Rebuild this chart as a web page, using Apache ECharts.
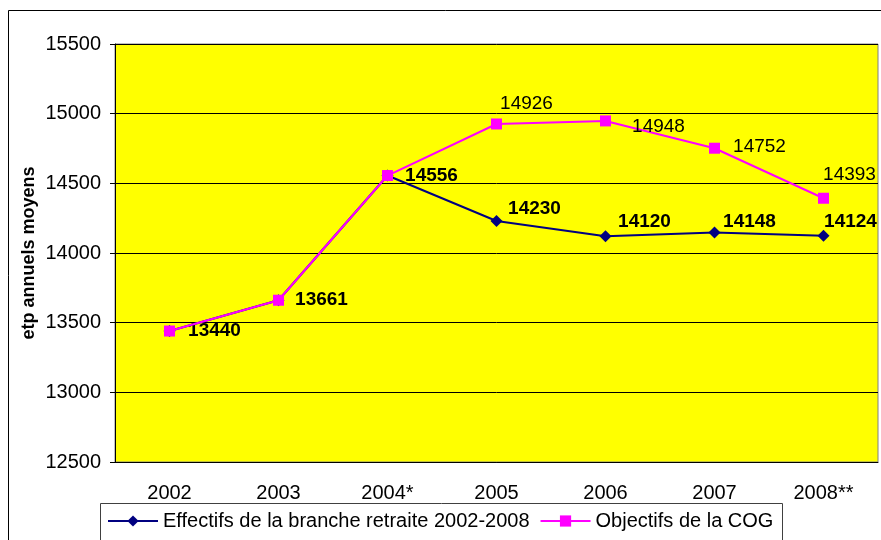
<!DOCTYPE html>
<html>
<head>
<meta charset="utf-8">
<script src="https://cdn.jsdelivr.net/npm/echarts@6/dist/echarts.min.js"></script>
<style>
    html, body { margin: 0; padding: 0; background: #fff; }
    #main { width: 881px; height: 540px; }
</style>
</head>
<body>
<div id="main"></div>
<script>
    // données
    var years = ['2002', '2003', '2004*', '2005', '2006', '2007', '2008**'];
    var effectifs = [13440, 13661, 14556, 14230, 14120, 14148, 14124];
    var objectifs = [13440, 13661, 14556, 14926, 14948, 14752, 14393];
    var nomEffectifs = 'Effectifs de la branche retraite 2002-2008';
    var nomObjectifs = 'Objectifs de la COG';

    // décalage des étiquettes (centre du texte par rapport au point)
    var offEff = [[45, 0], [43, 0], [44, 0], [38, -12], [39, -15], [35, -11], [27, -14]];
    var offObj = [null, null, null, [30, -20], [53, 6], [45, -1], [26, -23]];

    var font = 'Arial, "Liberation Sans", sans-serif';

    function buildData(values, offsets, bold) {
        return values.map(function (v, i) {
            var item = {value: v};
            if (offsets[i]) {
                item.label = {
                    show: true,
                    position: 'inside',
                    offset: offsets[i],
                    fontFamily: font,
                    fontSize: 19,
                    fontWeight: bold ? 'bold' : 'normal',
                    color: '#000'
                };
            } else {
                item.label = {show: false};
            }
            return item;
        });
    }

    var myChart = echarts.init(document.getElementById('main'));

    var option = {
        animation: false,
        textStyle: {fontFamily: font},
        grid: {
            left: 115, right: 3, top: 44, bottom: 78,
            show: true,
            backgroundColor: '#ffff00',
            borderColor: '#808080',
            borderWidth: 1
        },
        graphic: [{
            type: 'rect',
            shape: {x: 8.5, y: 10.5, width: 900, height: 600},
            style: {fill: null, stroke: '#000', lineWidth: 1},
            silent: true,
            z: -1
        }, {
            type: 'rect',
            shape: {x: 100.5, y: 503.5, width: 682, height: 60},
            style: {fill: '#fff', stroke: '#404040', lineWidth: 1},
            silent: true,
            z: 0
        }],
        legend: {
            left: 107,
            top: 511,
            padding: 0,
            itemWidth: 50,
            itemHeight: 14,
            itemGap: 10,
            z: 5,
            textStyle: {fontFamily: font, fontSize: 20, color: '#000'},
            data: [nomEffectifs, nomObjectifs]
        },
        xAxis: {
            type: 'category',
            data: years,
            boundaryGap: true,
            axisLine: {lineStyle: {color: '#000', width: 1}},
            axisTick: {length: 6, lineStyle: {color: '#000'}},
            axisLabel: {fontFamily: font, fontSize: 20, color: '#000', margin: 21}
        },
        yAxis: {
            type: 'value',
            min: 12500,
            max: 15500,
            interval: 500,
            name: 'etp annuels moyens',
            nameLocation: 'middle',
            nameGap: 77,
            nameMoveOverlap: false,
            nameTextStyle: {fontFamily: font, fontSize: 18, fontWeight: 'bold', color: '#000'},
            axisLine: {show: true, lineStyle: {color: '#000', width: 1}},
            axisTick: {show: true, length: 5, lineStyle: {color: '#000'}},
            axisLabel: {
                fontFamily: font, fontSize: 20, color: '#000', margin: 14,
                formatter: function (v) { return String(v); }
            },
            splitLine: {lineStyle: {color: '#000', width: 1}}
        },
        series: [{
            name: nomEffectifs,
            type: 'line',
            data: buildData(effectifs, offEff, true),
            symbol: 'diamond',
            symbolSize: 12,
            lineStyle: {color: '#000080', width: 2},
            itemStyle: {color: '#000080'},
            z: 3
        }, {
            name: nomObjectifs,
            type: 'line',
            data: buildData(objectifs, offObj, false),
            symbol: 'rect',
            symbolSize: 11,
            lineStyle: {color: '#ff00ff', width: 2},
            itemStyle: {color: '#ff00ff'},
            z: 4
        }]
    };

    myChart.setOption(option);
</script>
</body>
</html>
